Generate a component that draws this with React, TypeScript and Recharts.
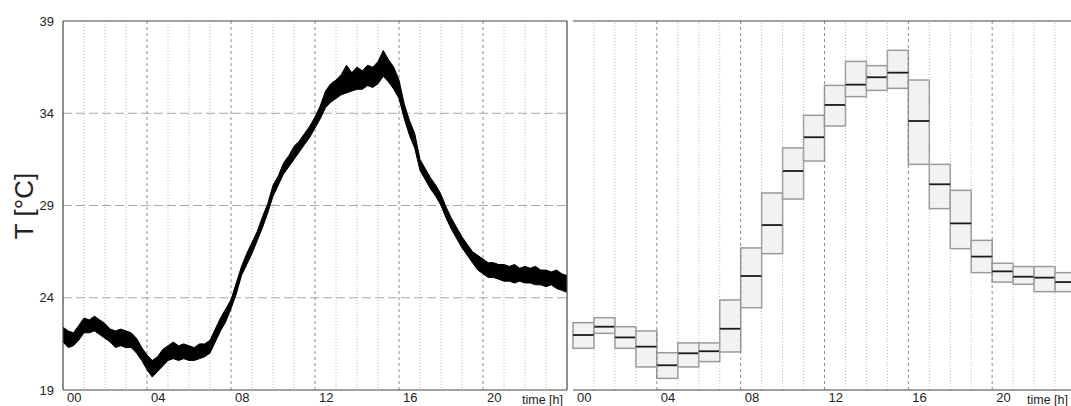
import {
  ComposedChart,
  Area,
  Bar,
  XAxis,
  YAxis,
  CartesianGrid,
  ReferenceLine,
  Label,
} from "recharts";

// left panel: raw logger trace, sampled every 15 min (band = noise envelope)
const times = [
  0, 0.25, 0.5, 0.75, 1, 1.25, 1.5, 1.75, 2, 2.25, 2.5, 2.75, 3, 3.25, 3.5, 3.75,
  4, 4.25, 4.5, 4.75, 5, 5.25, 5.5, 5.75, 6, 6.25, 6.5, 6.75, 7, 7.25, 7.5, 7.75,
  8, 8.25, 8.5, 8.75, 9, 9.25, 9.5, 9.75, 10, 10.25, 10.5, 10.75, 11, 11.25, 11.5, 11.75,
  12, 12.25, 12.5, 12.75, 13, 13.25, 13.5, 13.75, 14, 14.25, 14.5, 14.75, 15, 15.25, 15.5, 15.75,
  16, 16.25, 16.5, 16.75, 17, 17.25, 17.5, 17.75, 18, 18.25, 18.5, 18.75, 19, 19.25, 19.5, 19.75,
  20, 20.25, 20.5, 20.75, 21, 21.25, 21.5, 21.75, 22, 22.25, 22.5, 22.75, 23, 23.25, 23.5, 23.75,
  24,
];
const tempLow = [
  21.6, 21.3, 21.4, 21.7, 22.1, 22.1, 22.2, 22.0,
  21.8, 21.6, 21.3, 21.4, 21.3, 21.3, 21.0, 20.6,
  20.1, 19.7, 20.0, 20.3, 20.6, 20.7, 20.6, 20.7,
  20.6, 20.6, 20.7, 20.8, 21.0, 21.6, 22.2, 22.7,
  23.4, 24.2, 25.2, 25.8, 26.4, 27.1, 27.8, 28.6,
  29.5, 30.1, 30.7, 31.1, 31.5, 31.9, 32.3, 32.7,
  33.2, 33.7, 34.3, 34.6, 34.8, 35.0, 35.1, 35.2,
  35.3, 35.3, 35.5, 35.4, 35.6, 36.0, 35.7, 35.3,
  34.8, 33.7, 32.8, 32.1, 30.9, 30.4, 29.9, 29.5,
  29.0, 28.3, 27.7, 27.2, 26.7, 26.3, 25.9, 25.5,
  25.3, 25.1, 25.1, 25.0, 24.9, 24.9, 24.8, 24.9,
  24.8, 24.8, 24.7, 24.7, 24.6, 24.7, 24.5, 24.4,
  24.3,
];
const tempHigh = [
  22.4, 22.2, 22.1, 22.5, 22.9, 22.8, 23.0, 22.8,
  22.6, 22.3, 22.2, 22.3, 22.2, 22.1, 21.8, 21.3,
  20.9, 20.6, 20.8, 21.2, 21.4, 21.6, 21.4, 21.5,
  21.4, 21.3, 21.5, 21.5, 21.7, 22.3, 22.9, 23.4,
  23.9, 24.8, 25.7, 26.4, 27.0, 27.6, 28.4, 29.1,
  30.1, 30.6, 31.3, 31.7, 32.2, 32.5, 32.9, 33.3,
  33.8, 34.4, 35.2, 35.6, 35.8, 36.1, 36.6, 36.2,
  36.5, 36.3, 36.6, 36.5, 36.8, 37.4, 36.9, 36.5,
  35.8, 34.5, 33.6, 32.9, 31.5, 31.0, 30.5, 30.1,
  29.6, 28.9, 28.3, 27.8, 27.3, 26.9, 26.5, 26.3,
  26.1, 25.9, 25.9, 25.8, 25.8, 25.7, 25.8, 25.6,
  25.7, 25.6, 25.7, 25.5, 25.5, 25.4, 25.5, 25.3,
  25.2,
];

// right panel: hourly min / median / max
const boxHours = [0, 1, 2, 3, 4, 5, 6, 7, 8, 9, 10, 11, 12, 13, 14, 15, 16, 17, 18, 19, 20, 21, 22, 23];
const boxMin = [21.26, 22.07, 21.26, 20.25, 19.63, 20.25, 20.54, 21.06, 23.46, 26.39, 29.35, 31.41, 33.31, 34.9, 35.24, 35.35, 31.23, 28.83, 26.66, 25.36, 24.85, 24.73, 24.33, 24.33];
const boxMed = [21.98, 22.43, 21.85, 21.35, 20.34, 20.99, 21.1, 22.32, 25.18, 27.94, 30.87, 32.7, 34.45, 35.55, 35.95, 36.2, 33.58, 30.15, 28.03, 26.23, 25.43, 25.14, 25.09, 24.85];
const boxMax = [22.65, 22.92, 22.43, 22.2, 21.02, 21.55, 21.55, 23.88, 26.7, 29.68, 32.12, 33.89, 35.51, 36.81, 36.58, 37.41, 35.8, 31.23, 29.82, 27.11, 25.87, 25.69, 25.69, 25.36];

const hourTicks = [0, 4, 8, 12, 16, 20];
const minorHours = [1, 2, 3, 5, 6, 7, 9, 10, 11, 13, 14, 15, 17, 18, 19, 21, 22, 23];
const majorHours = [4, 8, 12, 16, 20];
const tempTicks = [19, 24, 29, 34, 39];
const tempGrid = [24, 29, 34];

const traceData = times.map((t, i) => ({ t, band: [tempLow[i], tempHigh[i]] }));
const boxData = boxHours.map((h, i) => ({
  h,
  range: [boxMin[i], boxMax[i]],
  lo: boxMin[i],
  hi: boxMax[i],
  med: boxMed[i],
}));

const FONT = "'Liberation Sans', Arial, sans-serif";
const FRAME = "#444";
const MINOR = "#b8b8b8";
const MAJOR = "#8c8c8c";
const HGRID = "#a8a8a8";
const RIGHT_W = 506;
const RIGHT_LEFT = 3;

const fmtHour = (v: any) => String(v).padStart(2, "0");

// numeric axis tick: label sits just right of the hour line
const HourTick = (props: any) => {
  const { x, y, payload } = props;
  return (
    <text x={x + 4} y={y + 12} fontSize={13} fill="#222" fontFamily={FONT}>
      {fmtHour(payload.value)}
    </text>
  );
};

// category axis tick: shift from band centre back to band start
const BandTick = (props: any) => {
  const { x, y, payload } = props;
  const band = (RIGHT_W - RIGHT_LEFT) / 24;
  return (
    <text x={x - band / 2 + 4} y={y + 12} fontSize={13} fill="#222" fontFamily={FONT}>
      {fmtHour(payload.value)}
    </text>
  );
};

const timeTitle = (endOffset: number) => (props: any) => {
  const vb = props.viewBox;
  return (
    <text x={vb.x + vb.width - endOffset} y={404} textAnchor="end" fontSize={12.5} fill="#222" fontFamily={FONT}>
      time [h]
    </text>
  );
};

const BoxShape = (props: any) => {
  const { x, y, width, height, payload } = props;
  const my = y + (height * (payload.hi - payload.med)) / (payload.hi - payload.lo);
  return (
    <g>
      <rect x={x} y={y} width={width} height={height} fill="#f2f2f2" stroke="#9a9a9a" strokeWidth={1.5} />
      <line x1={x} x2={x + width} y1={my} y2={my} stroke="#1a1a1a" strokeWidth={1.8} />
    </g>
  );
};

export default function App() {
  return (
    <div
      style={{
        position: "fixed",
        left: 0,
        top: 0,
        width: 1071,
        height: 406,
        overflow: "hidden",
        background: "#fff",
        fontFamily: FONT,
      }}
    >
      <div style={{ position: "absolute", left: 0, top: 0 }}>
        <ComposedChart width={570} height={406} data={traceData} margin={{ top: 21, right: 3, bottom: 0, left: 13 }}>
          <CartesianGrid horizontal={false} verticalValues={minorHours} stroke={MINOR} strokeDasharray="1 2" />
          <CartesianGrid horizontal={false} verticalValues={majorHours} stroke={MAJOR} strokeDasharray="3 3" />
          <CartesianGrid vertical={false} horizontalValues={tempGrid} stroke={HGRID} strokeDasharray="9 4" />
          <XAxis
            dataKey="t"
            type="number"
            domain={[0, 24]}
            ticks={hourTicks}
            height={16}
            tickLine={false}
            tickSize={0}
            tickMargin={0}
            axisLine={{ stroke: FRAME, strokeWidth: 1.2 }}
            tick={<HourTick />}
            interval={0}
          >
            <Label content={timeTitle(4)} />
          </XAxis>
          <YAxis
            type="number"
            domain={[19, 39]}
            ticks={tempTicks}
            width={50}
            tickLine={false}
            tickSize={0}
            tickMargin={9}
            axisLine={{ stroke: FRAME, strokeWidth: 1.2 }}
            tick={{ fontSize: 13, fill: "#222", fontFamily: FONT }}
            interval={0}
          >
            <Label
              content={() => (
                <text
                  x={24}
                  y={206}
                  transform="rotate(-90 24 206)"
                  textAnchor="middle"
                  dominantBaseline="central"
                  fontSize={26}
                  fill="#222"
                  fontFamily={FONT}
                >
                  T [°C]
                </text>
              )}
            />
          </YAxis>
          <Area
            type="linear"
            dataKey="band"
            stroke="#000"
            strokeWidth={1}
            fill="#000"
            fillOpacity={1}
            isAnimationActive={false}
            dot={false}
            activeDot={false}
          />
          <ReferenceLine y={39} stroke={FRAME} strokeWidth={1.2} />
          <ReferenceLine x={24} stroke={FRAME} strokeWidth={1.2} />
        </ComposedChart>
      </div>
      <div style={{ position: "absolute", left: 570, top: 0 }}>
        <ComposedChart
          width={RIGHT_W}
          height={406}
          data={boxData}
          margin={{ top: 21, right: 0, bottom: 0, left: RIGHT_LEFT }}
          barCategoryGap={0}
          barGap={0}
        >
          <CartesianGrid vertical={false} horizontalValues={tempGrid} stroke={HGRID} strokeDasharray="9 4" />
          <XAxis
            dataKey="h"
            type="category"
            interval={3}
            height={16}
            tickLine={false}
            tickSize={0}
            tickMargin={0}
            axisLine={{ stroke: FRAME, strokeWidth: 1.2 }}
            tick={<BandTick />}
          >
            <Label content={timeTitle(8)} />
          </XAxis>
          <YAxis
            type="number"
            domain={[19, 39]}
            ticks={tempTicks}
            width={0}
            tick={false}
            tickLine={false}
            axisLine={{ stroke: FRAME, strokeWidth: 1.2 }}
          />
          <Bar dataKey="range" shape={<BoxShape />} isAnimationActive={false} />
          {minorHours.map((h) => (
            <ReferenceLine key={"mi" + h} x={h} position="start" stroke={MINOR} strokeDasharray="1 2" />
          ))}
          {majorHours.map((h) => (
            <ReferenceLine key={"ma" + h} x={h} position="start" stroke={MAJOR} strokeDasharray="3 3" />
          ))}
          <ReferenceLine y={39} stroke={FRAME} strokeWidth={1.2} />
        </ComposedChart>
      </div>
    </div>
  );
}
